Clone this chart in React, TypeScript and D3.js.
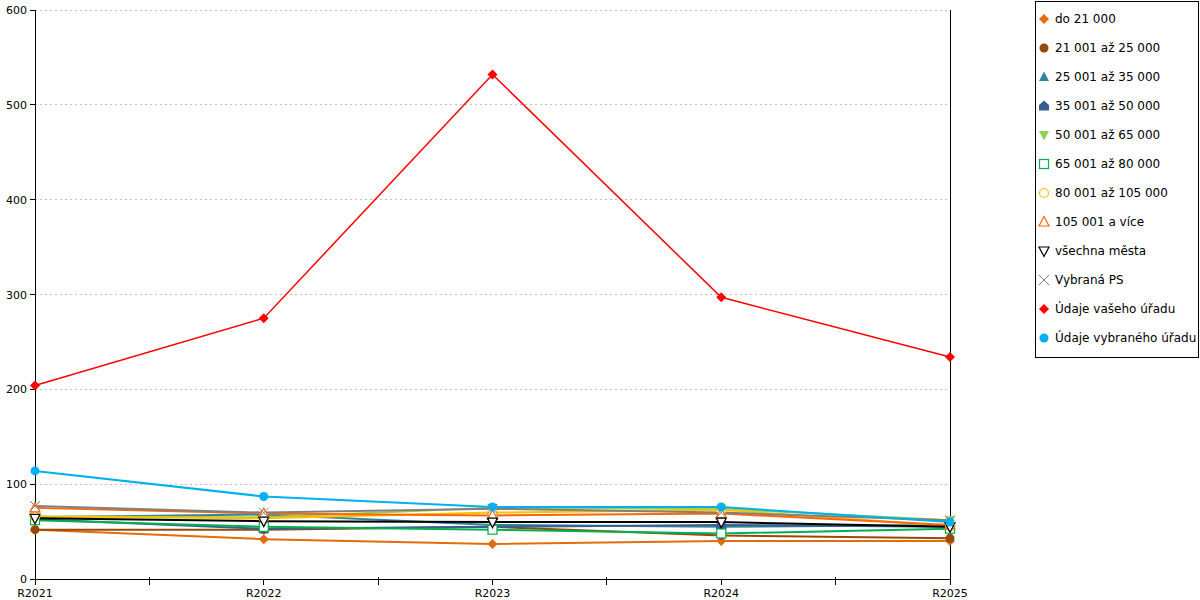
import React from "react";
import * as d3 from "d3";

const categories = ["R2021", "R2022", "R2023", "R2024", "R2025"];
const yTicks = [0, 100, 200, 300, 400, 500, 600];

const seriesNames = [
  "do 21 000",
  "21 001 až 25 000",
  "25 001 až 35 000",
  "35 001 až 50 000",
  "50 001 až 65 000",
  "65 001 až 80 000",
  "80 001 až 105 000",
  "105 001 a více",
  "všechna města",
  "Vybraná PS",
  "Údaje vašeho úřadu",
  "Údaje vybraného úřadu",
];
const seriesColors = [
  "#E46C0A", "#984807", "#31859C", "#376092", "#92D050", "#00B050",
  "#FFC000", "#FF6600", "#000000", "#808080", "#FF0000", "#00B0F0",
];
const seriesMarkers = [
  "diamond", "circle", "triangle", "house", "triangleDown", "squareOpen",
  "circleOpen", "triangleOpen", "triangleDownOpen", "cross", "diamond", "circle",
];

const s01 = [52, 42, 37, 40, 40];
const s02 = [52, 52, 55, 46, 43];
const s03 = [65, 68, 57, 55, 57];
const s04 = [63, 53, 55, 57, 55];
const s05 = [66, 65, 75, 74, 62];
const s06 = [62, 55, 52, 48, 53];
const s07 = [66, 64, 70, 73, 56];
const s08 = [75, 69, 67, 69, 57];
const s09 = [64, 61, 60, 60, 55];
const s10 = [77, 70, 74, 70, 62];
const s11 = [204, 275, 532, 297, 234];
const s12 = [114, 87, 76, 76, 60];
const seriesValues = [s01, s02, s03, s04, s05, s06, s07, s08, s09, s10, s11, s12];

const left = 35, right = 950, top = 10, bottom = 579;

function Marker({ type, x, y, color }: { type: string; x: number; y: number; color: string }) {
  const r = 4.5;
  switch (type) {
    case "diamond":
      return <path d={`M${x},${y - 5}L${x + 5},${y}L${x},${y + 5}L${x - 5},${y}Z`} fill={color} />;
    case "circle":
      return <circle cx={x} cy={y} r={r} fill={color} />;
    case "triangle":
      return <path d={`M${x},${y - 5.5}L${x + 5},${y + 4}L${x - 5},${y + 4}Z`} fill={color} />;
    case "house":
      return <path d={`M${x},${y - 5.5}L${x + 5},${y - 1}L${x + 5},${y + 4.5}L${x - 5},${y + 4.5}L${x - 5},${y - 1}Z`} fill={color} />;
    case "triangleDown":
      return <path d={`M${x - 5},${y - 4}L${x + 5},${y - 4}L${x},${y + 5.5}Z`} fill={color} />;
    case "squareOpen":
      return <rect x={x - 4.5} y={y - 4.5} width={9} height={9} fill="white" stroke={color} strokeWidth={1.2} />;
    case "circleOpen":
      return <circle cx={x} cy={y} r={r} fill="white" stroke={color} strokeWidth={1.2} />;
    case "triangleOpen":
      return <path d={`M${x},${y - 5.5}L${x + 5},${y + 4}L${x - 5},${y + 4}Z`} fill="white" stroke={color} strokeWidth={1.2} />;
    case "triangleDownOpen":
      return <path d={`M${x - 5},${y - 4}L${x + 5},${y - 4}L${x},${y + 5.5}Z`} fill="white" stroke={color} strokeWidth={1.2} />;
    case "cross":
      return <path d={`M${x - 5},${y - 5}L${x + 5},${y + 5}M${x + 5},${y - 5}L${x - 5},${y + 5}`} stroke={color} strokeWidth={1} fill="none" />;
    default:
      return null;
  }
}

export default function App() {
  const x = d3.scalePoint<string>().domain(categories).range([left, right]);
  const y = d3.scaleLinear().domain([0, 600]).range([bottom, top]);
  const line = d3.line<number>().x((_, i) => x(categories[i]) as number).y((v) => y(v));
  const step = x.step();
  const minorTicks = categories.slice(0, -1).map((c) => (x(c) as number) + step / 2);

  return (
    <svg width={1200} height={600} style={{ position: "absolute", left: 0, top: 0, fontFamily: "DejaVu Sans, Verdana, sans-serif" }}>
      <rect width={1200} height={600} fill="white" />
      <g shapeRendering="crispEdges">
        {yTicks.filter((t) => t > 0).map((t) => (
          <line key={t} x1={left} x2={right} y1={y(t)} y2={y(t)} stroke="#c0c0c0" strokeDasharray="2,3" strokeWidth={1} />
        ))}
        {yTicks.map((t) => (
          <line key={"yt" + t} x1={left - 5} x2={left} y1={y(t)} y2={y(t)} stroke="black" />
        ))}
        <line x1={left} x2={left} y1={top} y2={bottom} stroke="black" />
        <line x1={right} x2={right} y1={top} y2={bottom} stroke="black" />
        <line x1={left} x2={right} y1={bottom} y2={bottom} stroke="black" />
        {categories.map((c) => (
          <line key={c} x1={x(c)} x2={x(c)} y1={bottom} y2={bottom + 6} stroke="black" />
        ))}
        {minorTicks.map((m, i) => (
          <line key={"m" + i} x1={m} x2={m} y1={bottom - 2} y2={bottom + 6} stroke="black" />
        ))}
      </g>
      {yTicks.map((t) => (
        <text key={"ytl" + t} x={left - 8} y={y(t) + 4} fontSize={11} textAnchor="end" fill="#000">{t}</text>
      ))}
      {categories.map((c) => (
        <text key={"xl" + c} x={x(c)} y={bottom + 18} fontSize={11} textAnchor="middle" fill="#000">{c}</text>
      ))}
      {seriesValues.map((vals, si) => (
        <path key={"l" + si} d={line(vals) || ""} fill="none" stroke={seriesColors[si]} strokeWidth={si === 10 ? 1.5 : 2} />
      ))}
      {seriesValues.map((vals, si) => (
        <g key={"mk" + si}>
          {vals.map((v, i) => (
            <Marker key={i} type={seriesMarkers[si]} x={x(categories[i]) as number} y={y(v)} color={seriesColors[si]} />
          ))}
        </g>
      ))}
      <rect x={1035.5} y={1.5} width={163} height={356} fill="white" stroke="black" strokeWidth={1} shapeRendering="crispEdges" />
      {seriesNames.map((n, i) => {
        const ly = 19 + i * 29;
        return (
          <g key={"lg" + i}>
            <Marker type={seriesMarkers[i]} x={1044} y={ly} color={seriesColors[i]} />
            <text x={1055} y={ly + 4} fontSize={12} fill="#000">{n}</text>
          </g>
        );
      })}
    </svg>
  );
}
